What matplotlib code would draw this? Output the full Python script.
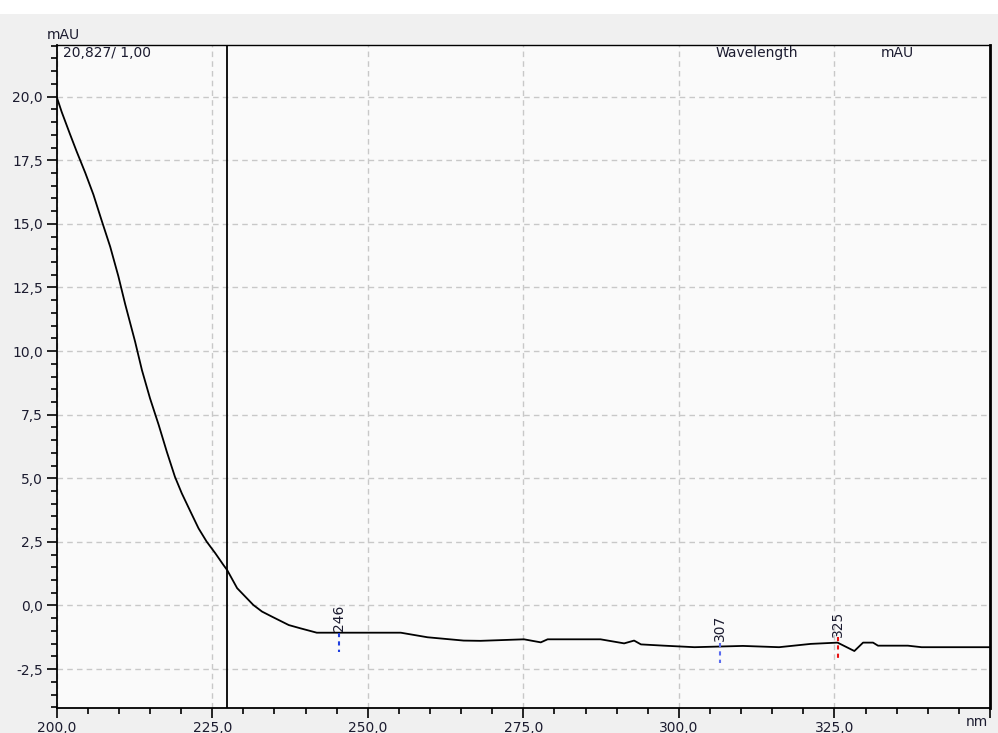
# UV spectrum screenshot, redrawn with matplotlib.
# Wavelength (nm) against absorbance (mAU), with a cursor line and three peak marks.

import matplotlib
matplotlib.use("Agg")
import matplotlib.pyplot as plt
from matplotlib.patches import Rectangle
from matplotlib.ticker import MultipleLocator, FuncFormatter

# spectrum
wavelength = [200.0, 200.8, 202.1, 203.2, 204.6, 205.9, 207.2, 208.6, 209.9, 211.0,
              212.6, 213.7, 215.0, 216.4, 217.7, 219.0, 220.1, 221.5, 222.8, 224.1,
              225.5, 226.8, 227.4, 229.0, 230.3, 231.6, 233.0, 234.6, 237.3, 239.2,
              241.8, 245.6, 255.3, 259.6, 265.4, 268.1, 275.1, 277.8, 278.9, 287.4,
              291.2, 292.8, 293.9, 297.6, 302.5, 310.3, 316.1, 321.2, 325.5, 328.2,
              329.6, 331.2, 332.0, 336.8, 339.0, 350.0]
mau = [19.99, 19.40, 18.55, 17.85, 17.00, 16.15, 15.15, 14.10, 12.95, 11.85,
       10.37, 9.25, 8.14, 7.09, 6.04, 5.06, 4.41, 3.69, 3.03, 2.51,
       2.05, 1.59, 1.39, 0.68, 0.35, 0.02, -0.24, -0.44, -0.77, -0.90,
       -1.07, -1.07, -1.07, -1.25, -1.38, -1.39, -1.33, -1.45, -1.33, -1.33,
       -1.49, -1.38, -1.53, -1.58, -1.64, -1.59, -1.64, -1.51, -1.46, -1.79,
       -1.46, -1.46, -1.58, -1.58, -1.64, -1.64]

cursor_wl = 227.3

# peak marks: label, x position, label bottom, dash top, dash bottom, colour
peak_labels = ["246", "307", "325"]
peak_x = [245.4, 306.6, 325.5]
peak_label_y = [-1.0, -1.38, -1.24]
peak_dash_top = [-1.08, -1.47, -1.22]
peak_dash_bot = [-1.83, -2.26, -2.14]
peak_colors = ["#1f3fe0", "#5a6cf0", "#e81010"]

W, H = 998, 733
TXT = "#1c1c30"
FS = 10
fig = plt.figure(figsize=(W / 100, H / 100), dpi=100, facecolor="white")
# grey panel below the thin white strip at the top
fig.patches.append(Rectangle((0, 0), 1, 1 - 14 / H, transform=fig.transFigure,
                             facecolor="#f0f0f0", edgecolor="none", zorder=-10))

ax = fig.add_axes([56.7 / W, 1 - 708 / H, (990 - 56.7) / W, (708 - 45) / H])
ax.set_facecolor("#fafafa")
ax.set_xlim(200, 350)
ax.set_ylim(-4.03, 22.03)

ax.xaxis.set_major_locator(MultipleLocator(25))
ax.xaxis.set_minor_locator(MultipleLocator(5))
ax.yaxis.set_major_locator(MultipleLocator(2.5))
ax.yaxis.set_minor_locator(MultipleLocator(0.5))
comma = FuncFormatter(lambda v, p: f"{v:.1f}".replace(".", ","))
# the last x tick carries no number, "nm" sits there instead
xcomma = FuncFormatter(lambda v, p: "" if v > 340 else f"{v:.1f}".replace(".", ","))
ax.xaxis.set_major_formatter(xcomma)
ax.yaxis.set_major_formatter(comma)

ax.tick_params(which="major", length=7, width=1.2, labelsize=FS, colors="black",
               labelcolor=TXT)
ax.tick_params(axis="y", which="major", pad=3)
ax.tick_params(axis="x", which="major", pad=2)
ax.tick_params(which="minor", length=4, width=1.2, colors="black")
ax.tick_params(axis="x", which="both", top=False)
ax.tick_params(axis="y", which="both", right=False)

ax.grid(True, which="major", color="#c8c8c8", linestyle=(0, (4, 3)), linewidth=1)
ax.set_axisbelow(True)

for s in ax.spines.values():
    s.set_color("black")
    s.set_linewidth(1.0)
ax.spines["right"].set_linewidth(2.0)
ax.spines["left"].set_linewidth(1.3)
ax.spines["bottom"].set_linewidth(1.3)

ax.plot(wavelength, mau, color="black", linewidth=1.3, zorder=3)
ax.axvline(cursor_wl, color="black", linewidth=1.3, zorder=4)

for lab, x, ly, y0, y1, c in zip(peak_labels, peak_x, peak_label_y,
                                 peak_dash_top, peak_dash_bot, peak_colors):
    ax.plot([x, x], [y0, y1], color=c, linestyle=(0, (2, 2)), linewidth=1.5, zorder=5)
    ax.text(x, ly, lab, rotation=90, ha="center", va="bottom", fontsize=FS,
            color=TXT, zorder=6)

# header texts
fig.text(47 / W, 1 - 35 / H, "mAU", fontsize=FS, va="center", ha="left", color=TXT)
fig.text(63 / W, 1 - 53 / H, "20,827/ 1,00", fontsize=FS, va="center", ha="left",
         color=TXT)
fig.text(757 / W, 1 - 53 / H, "Wavelength", fontsize=FS, va="center", ha="center",
         color=TXT)
fig.text(897 / W, 1 - 53 / H, "mAU", fontsize=FS, va="center", ha="center", color=TXT)
fig.text(988 / W, 1 - 722 / H, "nm", fontsize=FS, va="center", ha="right", color=TXT)

fig.savefig("out.png", dpi=100, facecolor=fig.get_facecolor())
